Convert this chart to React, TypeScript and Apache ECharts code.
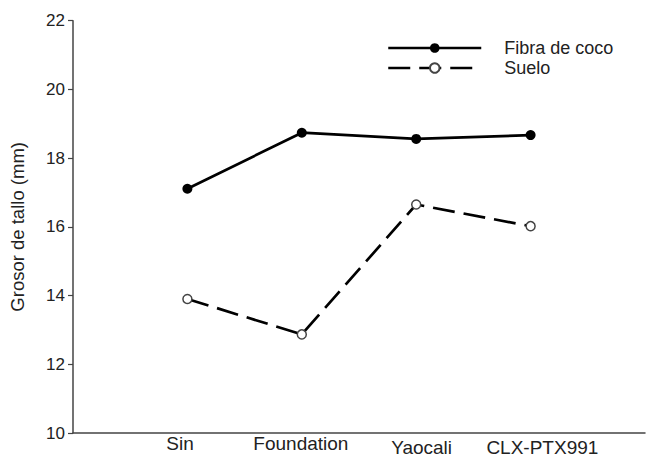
import React, { useEffect, useRef } from "react";
import * as echarts from "echarts";

const categories = ["Sin", "Foundation", "Yaocali", "CLX-PTX991"];
const fibraDeCoco = [17.11, 18.74, 18.56, 18.67];
const suelo = [13.9, 12.87, 16.65, 16.02];
const seriesNames = ["Fibra de coco", "Suelo"];
const yTicks = { min: 10, max: 22, interval: 2 };

export default function App() {
  const ref = useRef<HTMLDivElement>(null);
  useEffect(() => {
    document.body.style.margin = "0";
    const chart = echarts.init(ref.current!, null, { renderer: "svg" });
    const font = "Liberation Sans, Arial, sans-serif";
    const toPoints = (vals: number[]) => vals.map((v, i) => [i + 1, v]);
    chart.setOption({
      animation: false,
      backgroundColor: "#fff",
      grid: { left: 73, right: 2, top: 20.7, bottom: 22.7, containLabel: false },
      legend: {
        orient: "vertical",
        left: 387,
        top: 39,
        padding: 0,
        itemWidth: 93,
        itemHeight: 12,
        itemGap: 2,
        data: seriesNames,
        lineStyle: { width: 2.5 },
        textStyle: { fontFamily: font, fontSize: 18, lineHeight: 16, color: "#222", padding: [0, 0, 0, 18] },
      },
      xAxis: [
        {
          type: "value",
          min: 0,
          max: 5,
          axisLine: { show: true, lineStyle: { color: "#444", width: 1.5 } },
          axisTick: { show: false },
          axisLabel: { show: false },
          splitLine: { show: false },
        },
        {
          type: "value",
          position: "bottom",
          min: 0.113,
          max: 4.85,
          axisLine: { show: false },
          axisTick: { show: false },
          splitLine: { show: false },
          axisLabel: {
            customValues: [1, 2, 3, 4],
            margin: 1,
            fontFamily: font,
            fontSize: 19,
            color: "#222",
            formatter: (v: number) => {
              const i = Math.round(v) - 1;
              const name = categories[i] ?? "";
              return i >= 2 ? `{b|${name}}` : `{a|${name}}`;
            },
            rich: {
              a: { fontFamily: font, fontSize: 19, color: "#222" },
              b: { fontFamily: font, fontSize: 19, color: "#222", padding: [4, 0, 0, 0] },
            },
          },
        },
      ],
      yAxis: {
        type: "value",
        min: yTicks.min,
        max: yTicks.max,
        interval: yTicks.interval,
        name: "Grosor de tallo (mm)",
        nameLocation: "middle",
        nameGap: 46,
        nameTextStyle: { fontFamily: font, fontSize: 18.5, color: "#222" },
        axisLine: { show: true, lineStyle: { color: "#444", width: 1.5 } },
        axisTick: { show: true, inside: false, length: 5, lineStyle: { color: "#444", width: 1.2 } },
        axisLabel: { fontFamily: font, fontSize: 17, color: "#222", margin: 8 },
        splitLine: { show: false },
      },
      series: [
        {
          name: seriesNames[0],
          type: "line",
          xAxisIndex: 0,
          data: toPoints(fibraDeCoco),
          symbol: "circle",
          symbolSize: 10,
          itemStyle: { color: "#000", borderColor: "#000", borderWidth: 0 },
          lineStyle: { color: "#000", width: 2.7 },
        },
        {
          name: seriesNames[1],
          type: "line",
          xAxisIndex: 0,
          data: toPoints(suelo),
          symbol: "circle",
          symbolSize: 9,
          itemStyle: { color: "#fff", borderColor: "#444", borderWidth: 1.5 },
          lineStyle: { color: "#000", width: 2.7, type: [22, 9] },
        },
      ],
    });
    return () => chart.dispose();
  }, []);
  return <div ref={ref} style={{ width: 647, height: 457 }} />;
}
